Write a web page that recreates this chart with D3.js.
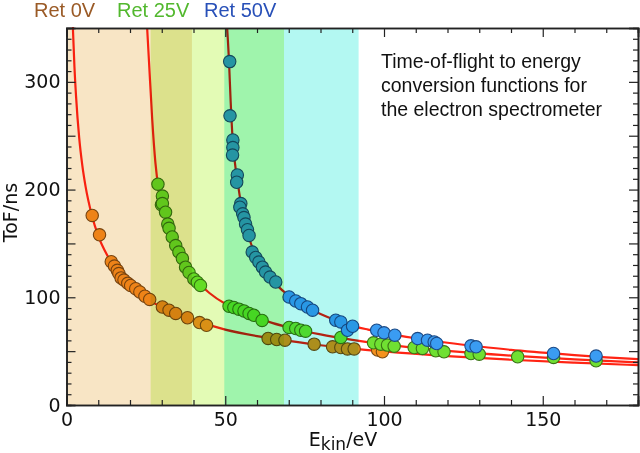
<!DOCTYPE html>
<html>
<head>
<meta charset="utf-8">
<script src="https://d3js.org/d3.v7.min.js"></script>
<style>
  html, body { margin: 0; padding: 0; background: #fff; }
  svg { display: block; }
</style>
</head>
<body>
<div id="chart"></div>
<script>
// Time-of-flight vs kinetic energy, three retardation settings

// bands covered by each setting (eV)
const bandNames = ['Ret 0V', 'Ret 25V', 'Ret 50V'];
const bandStart = [0, 26.5, 49.7];
const bandEnd = [39.5, 68.5, 92];
const bandColors = ['#f8e5c5', '#e3fbb5', '#b3f8f2'];
const legendColors = ['#9a5a26', '#52b82e', '#2850b8'];

// fitted conversion curves [E (eV), ToF (ns)]
const curveRet0 = [[2, 351], [2.5, 314], [3, 287], [4, 248], [5, 222], [6, 203], [8, 176], [10, 157],
  [13, 138], [16, 124], [20, 111], [25, 99], [30, 91], [40, 79], [50, 70], [60, 64], [70, 59.5],
  [80, 55.5], [90, 52.3], [100, 49.7], [120, 45.4], [140, 42], [160, 39.3], [180, 37]];
const curveRet25 = [[25.4, 350], [26, 318], [27, 265], [28, 225], [29, 201], [30, 188], [32, 168],
  [34, 151], [36, 138], [38, 127], [40, 119], [42, 112], [45, 104], [50, 94], [55, 87.5], [60, 81],
  [65, 76], [70, 72], [80, 65.5], [90, 60.5], [100, 56.3], [110, 53], [120, 50.2], [140, 45.8],
  [160, 42.3], [180, 39.5]];
const curveRet50 = [[50.6, 350], [51.2, 318], [51.7, 282], [52.3, 248], [53, 226], [54, 205],
  [55, 186], [56, 171], [57.5, 155], [59, 143], [61, 131], [63, 122], [66, 112], [70, 101.5],
  [75, 92], [80, 84.5], [85, 78.5], [90, 73.5], [95, 70], [100, 67], [110, 62], [120, 57.8],
  [130, 54.3], [140, 51.2], [150, 48.7], [160, 46.3], [170, 44.3], [180, 42.5]];

// measured points [E (eV), ToF (ns)]
const pointsRet0 = [[8.1, 176], [10.4, 158], [14.1, 133], [15.1, 129], [16.0, 125], [16.5, 122],
  [17.2, 118], [18.1, 116], [19.3, 113], [20.2, 111], [21.8, 108], [23.1, 105], [24.7, 101],
  [26.2, 98], [30.2, 91], [32.3, 88], [34.4, 85], [38.1, 81], [41.9, 76.5], [44.1, 74],
  [63.5, 61.8], [66.2, 60.8], [68.8, 60.2], [78, 56.5], [83.8, 54], [86.4, 53.4], [88.5, 52.1],
  [90.6, 52.1], [98, 51], [99.5, 49.4]];
const pointsRet25 = [[28.8, 205], [29.9, 186], [30.2, 194], [30.2, 187], [31.2, 179], [31.9, 168],
  [32.3, 164], [33.3, 156], [34.4, 148], [35.4, 142], [36.5, 136], [37.5, 128], [38.6, 123],
  [40.1, 117], [41.2, 114], [42.2, 111], [51.2, 91.7], [52.7, 90.5], [54.3, 89], [55.9, 87.3],
  [57.5, 85], [59, 83.3], [61.6, 78.5], [70.1, 72], [72.2, 71], [73.8, 69.4], [75.3, 68.5],
  [86.4, 62.7], [96.7, 57.7], [99, 56.5], [101.1, 55.6], [103.2, 54.6], [109.5, 53.4],
  [112.1, 52.5], [116.3, 50.3], [118.9, 49.4], [127.4, 47.8], [130, 47.2], [142.1, 44.7],
  [153.4, 44.2], [166.8, 41]];
const pointsRet50 = [[51.4, 318.8], [51.5, 268.5], [52.4, 246], [52.4, 239], [52.3, 232],
  [53.8, 213.6], [53.6, 206.8], [54.9, 187], [54.6, 183.6], [55.5, 177.5], [55.9, 174],
  [56.4, 168], [57, 162.7], [57.5, 157.4], [58.5, 142], [59.6, 137], [60.6, 132.7], [61.7, 128],
  [62.7, 123.4], [64.1, 118.8], [65.9, 114.2], [70.1, 100.3], [72.2, 96.6], [73.8, 94.1],
  [75.9, 91], [77.5, 88], [84.8, 78.7], [86.4, 77.1], [88.5, 69.4], [90.1, 73.1], [97.7, 69.4],
  [100, 67], [103.4, 64.8], [110.6, 61.7], [113.7, 60.2], [115.8, 58.6], [116.6, 57.1],
  [127.4, 54.9], [129, 54], [153.4, 47.8], [166.8, 45.4]];

const noteLines = ['Time-of-flight to energy', 'conversion functions for', 'the electron spectrometer'];

const width = 640, height = 453;
const margin = { top: 28, right: 2, bottom: 48, left: 66.5 };

const svg = d3.select('#chart').append('svg')
  .attr('width', width)
  .attr('height', height)
  .style('background', '#fff');

const x = d3.scaleLinear().domain([0, 180]).range([margin.left, width - margin.right]);
const y = d3.scaleLinear().domain([0, 350]).range([height - margin.bottom, margin.top]);

const plot = svg.append('g').attr('class', 'plot');

// curves
const line = d3.line().x(d => x(d[0])).y(d => y(d[1])).curve(d3.curveMonotoneX);
[curveRet0, curveRet25, curveRet50].forEach(c => {
  plot.append('path')
    .attr('d', line(c))
    .attr('fill', 'none')
    .attr('stroke', '#ff2414')
    .attr('stroke-width', 2.2);
});

// points
const pointStyles = [
  { data: pointsRet0, fill: '#f5921e', stroke: '#7a4a12' },
  { data: pointsRet25, fill: '#70e032', stroke: '#3a7416' },
  { data: pointsRet50, fill: '#3a9cf2', stroke: '#1c4a86' }
];
pointStyles.forEach(s => {
  plot.append('g')
    .selectAll('circle')
    .data(s.data)
    .join('circle')
    .attr('cx', d => x(d[0]))
    .attr('cy', d => y(d[1]))
    .attr('r', 6.2)
    .attr('fill', s.fill)
    .attr('stroke', s.stroke)
    .attr('stroke-width', 1.1);
});

// shaded bands, multiplied over the data
svg.append('g')
  .selectAll('rect')
  .data(bandNames)
  .join('rect')
  .attr('x', (d, i) => x(bandStart[i]))
  .attr('width', (d, i) => x(bandEnd[i]) - x(bandStart[i]))
  .attr('y', y(350))
  .attr('height', y(0) - y(350))
  .attr('fill', (d, i) => bandColors[i])
  .style('mix-blend-mode', 'multiply');

// axes
const axisFont = '"DejaVu Sans", sans-serif';
const majorX = d3.range(0, 181, 50);
const minorX = d3.range(0, 181, 10).filter(v => v % 50 !== 0);
const majorY = d3.range(0, 351, 50);
const minorY = d3.range(0, 351, 10).filter(v => v % 50 !== 0);

function drawAxis(axisFn, scale, transform, major, minor, labels, pad) {
  const gMinor = svg.append('g').attr('transform', transform)
    .call(axisFn(scale).tickValues(minor).tickSize(-5).tickFormat(''));
  const gMajor = svg.append('g').attr('transform', transform)
    .call(axisFn(scale).tickValues(major).tickSize(-9).tickPadding(pad)
      .tickFormat(labels ? (d => d % 100 === 0 || scale === x ? d : '') : ''));
  [gMinor, gMajor].forEach(g => {
    g.select('.domain').attr('stroke', '#222').attr('stroke-width', 1.6);
    g.selectAll('.tick line').attr('stroke', '#222').attr('stroke-width', 1.2);
    g.selectAll('text').style('font-family', axisFont).style('font-size', '19px').attr('fill', '#111');
  });
  return gMajor;
}

drawAxis(d3.axisBottom, x, `translate(0,${y(0)})`, majorX, minorX, true, 8);
drawAxis(d3.axisTop, x, `translate(0,${y(350)})`, majorX, minorX, false, 8);
drawAxis(d3.axisLeft, y, `translate(${x(0)},0)`, majorY, minorY, true, 6);
drawAxis(d3.axisRight, y, `translate(${x(180)},0)`, majorY, minorY, false, 6);

// axis titles
const xTitle = svg.append('text')
  .attr('x', 343)
  .attr('y', 446)
  .attr('text-anchor', 'middle')
  .style('font-family', axisFont)
  .style('font-size', '19px')
  .attr('fill', '#111');
xTitle.append('tspan').text('E');
xTitle.append('tspan').attr('dy', 4).style('font-size', '17px').text('kin');
xTitle.append('tspan').attr('dy', -4).text('/eV');

svg.append('text')
  .attr('transform', `translate(17,${y(175) - 4}) rotate(-90)`)
  .attr('text-anchor', 'middle')
  .style('font-family', axisFont)
  .style('font-size', '19px')
  .attr('fill', '#111')
  .text('ToF/ns');

// legend labels above plot
const legendX = [34, 117, 204];
svg.append('g')
  .selectAll('text')
  .data(bandNames)
  .join('text')
  .attr('x', (d, i) => legendX[i])
  .attr('y', 17)
  .style('font-family', '"Liberation Sans", Arial, sans-serif')
  .style('font-size', '20px')
  .attr('fill', (d, i) => legendColors[i])
  .text(d => d);

// note
svg.append('g')
  .selectAll('text')
  .data(noteLines)
  .join('text')
  .attr('x', 381)
  .attr('y', (d, i) => 68 + i * 24)
  .style('font-family', '"Liberation Sans", Arial, sans-serif')
  .style('font-size', '19.5px')
  .attr('fill', '#111')
  .text(d => d);
</script>
</body>
</html>
